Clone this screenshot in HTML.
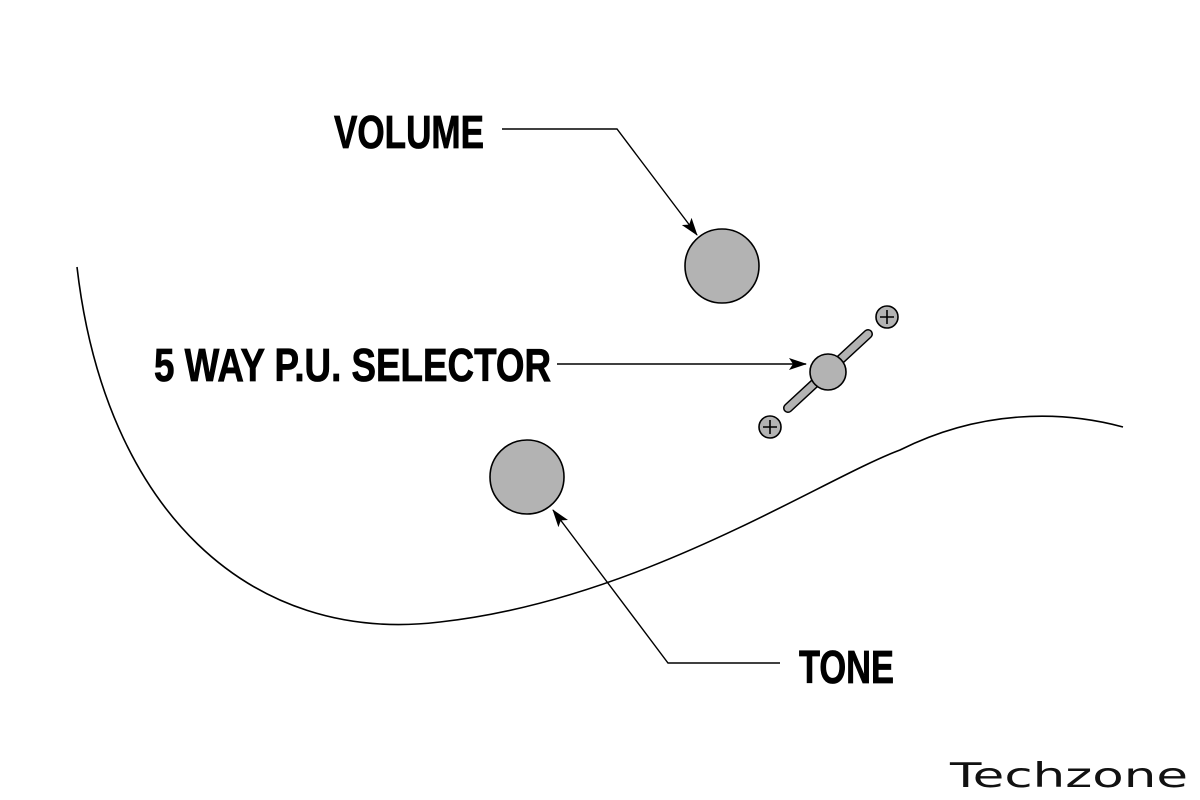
<!DOCTYPE html>
<html><head><style>
body{margin:0;background:#fff}
svg{display:block}
.l{font-family:"Liberation Sans Narrow","Liberation Sans",sans-serif;font-weight:bold;font-size:46px;fill:#000;stroke:#000;stroke-width:0.8}
</style></head><body>
<svg width="1200" height="800" viewBox="0 0 1200 800">
<defs><marker id="a" markerWidth="18" markerHeight="12" refX="17" refY="6" orient="auto" markerUnits="userSpaceOnUse"><path d="M0,0 L18,6 L0,12 L4,6 Z" fill="#000"/></marker></defs>
<path d="M77,267 C105,510 250,645 440,622 C640,600 820,480 900,450 C980,410 1060,410 1123,427" fill="none" stroke="#000" stroke-width="1.6"/>
<text class="l" x="334" y="148" textLength="150" lengthAdjust="spacingAndGlyphs">VOLUME</text>
<text class="l" x="154" y="381" textLength="397" lengthAdjust="spacingAndGlyphs">5 WAY P.U. SELECTOR</text>
<text class="l" x="799" y="683" textLength="95" lengthAdjust="spacingAndGlyphs">TONE</text>
<polyline points="502,129 617,129 697,235" fill="none" stroke="#000" stroke-width="1.4" marker-end="url(#a)"/>
<line x1="557" y1="364" x2="806" y2="364" stroke="#000" stroke-width="1.4" marker-end="url(#a)"/>
<polyline points="780,663 668,663 553,510" fill="none" stroke="#000" stroke-width="1.4" marker-end="url(#a)"/>
<circle cx="722" cy="266" r="37" fill="#b3b3b3" stroke="#000" stroke-width="1.6"/>
<circle cx="527" cy="477" r="37" fill="#b3b3b3" stroke="#000" stroke-width="1.6"/>
<line x1="788" y1="408" x2="868" y2="334" stroke="#000" stroke-width="10" stroke-linecap="round"/>
<line x1="788" y1="408" x2="868" y2="334" stroke="#b3b3b3" stroke-width="7" stroke-linecap="round"/>
<circle cx="828" cy="372" r="18" fill="#b3b3b3" stroke="#000" stroke-width="1.6"/>
<g stroke="#000" stroke-width="1.6">
<circle cx="887" cy="317" r="11" fill="#b3b3b3"/><path d="M880,317h14M887,310v14"/>
<circle cx="770" cy="427" r="11" fill="#b3b3b3"/><path d="M763,427h14M770,420v14"/>
</g>
<text x="950" y="787" font-family="DejaVu Sans,sans-serif" font-size="34" fill="#111" textLength="238" lengthAdjust="spacingAndGlyphs">Techzone</text>
</svg>
</body></html>
